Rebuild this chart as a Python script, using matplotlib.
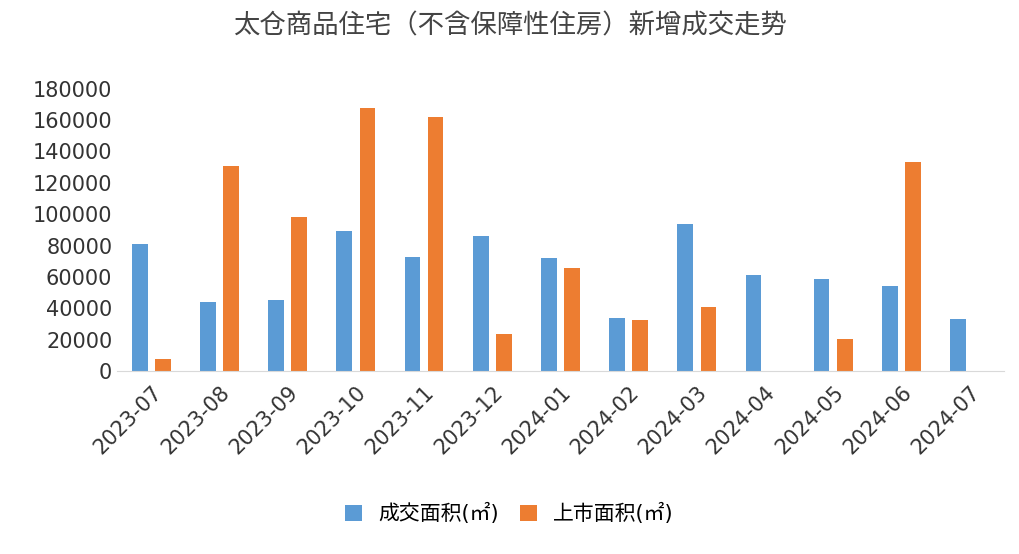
import matplotlib
matplotlib.use("Agg")
from matplotlib import pyplot as plt
from matplotlib import font_manager
import numpy as np

cjk = [f.name for f in font_manager.fontManager.ttflist if "CJK" in f.name]
plt.rcParams["font.family"] = ["DejaVu Sans"] + sorted(set(cjk))

months = ["2023-07", "2023-08", "2023-09", "2023-10", "2023-11", "2023-12", "2024-01",
          "2024-02", "2024-03", "2024-04", "2024-05", "2024-06", "2024-07"]
deal_area = [81000, 44000, 45500, 89000, 73000, 86000, 72000, 34000, 93500, 61500, 58500, 54000, 33500]
listed_area = [7700, 131000, 98000, 167500, 162000, 23700, 65500, 32700, 41000, 0, 20500, 133000, 0]

fig = plt.figure(figsize=(10.19, 5.54), dpi=100)
ax = fig.add_axes([0.115, 0.33, 0.87, 0.51])

x = np.arange(len(months))
w = 0.23
ax.bar(x - 0.17, deal_area, w, color="#5b9bd5", label="成交面积(㎡)")
ax.bar(x + 0.17, listed_area, w, color="#ed7d31", label="上市面积(㎡)")

ax.set_xlim(-0.5, len(months) - 0.5)
ax.set_ylim(0, 180000)
ax.set_yticks(np.arange(0, 180001, 20000))
ax.tick_params(axis="y", labelsize=15, length=0, labelcolor="#333333")
ax.set_xticks(x)
ax.set_xticklabels(months, rotation=45, ha="right", rotation_mode="anchor", fontsize=15, color="#333333")
ax.tick_params(axis="x", length=0, pad=8)
for s in ["top", "right", "left"]:
    ax.spines[s].set_visible(False)
ax.spines["bottom"].set_color("#d9d9d9")

fig.suptitle("太仓商品住宅（不含保障性住房）新增成交走势", fontsize=19, color="#444444", y=0.975)
fig.legend(loc="lower center", bbox_to_anchor=(0.5, 0.02), ncol=2, frameon=False, fontsize=15,
           handlelength=0.8, handleheight=0.8, columnspacing=1.0)

fig.savefig("out.png", dpi=100)
